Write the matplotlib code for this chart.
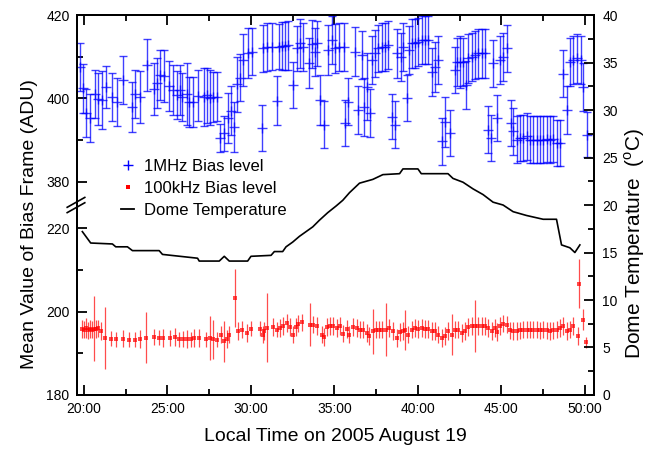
import numpy as np
import matplotlib.pyplot as plt
from matplotlib.lines import Line2D
from matplotlib.ticker import MultipleLocator, NullFormatter

plt.rcParams['font.family'] = ['Liberation Sans', 'DejaVu Sans']
plt.rcParams['mathtext.fontset'] = 'custom'
plt.rcParams['mathtext.rm'] = 'Liberation Sans'

# 1MHz bias level (ADU) with error bars
t_1mhz = [19.76, 19.96, 20.12, 20.36, 20.66, 20.84, 21.06, 21.32, 21.66, 21.96,
          22.34, 22.86, 23.05, 23.35, 23.75, 24.19, 24.37, 24.55, 24.79, 25.09,
          25.33, 25.55, 25.75, 25.87, 26.15, 26.29, 26.53, 26.83, 27.19, 27.35,
          27.54, 27.72, 27.95, 28.14, 28.38, 28.62, 28.78, 28.98, 29.16, 29.34,
          29.52, 29.82, 30.06, 30.66, 30.72, 30.96, 31.26, 31.56, 31.68, 31.86,
          32.04, 32.22, 32.51, 32.75, 32.93, 33.11, 33.47, 33.65, 33.83, 33.95,
          34.13, 34.37, 34.61, 34.85, 35.03, 35.27, 35.55, 35.63, 35.81, 36.23,
          36.41, 36.65, 36.77, 36.95, 37.13, 37.25, 37.43, 37.60, 37.84, 38.02,
          38.20, 38.44, 38.62, 38.74, 38.98, 39.10, 39.34, 39.46, 39.64, 39.82,
          40.00, 40.24, 40.42, 40.60, 40.84, 41.02, 41.20, 41.44, 41.62, 41.92,
          42.22, 42.34, 42.51, 42.69, 42.87, 42.99, 43.23, 43.41, 43.59, 43.83,
          44.01, 44.19, 44.37, 44.49, 44.73, 44.91, 45.09, 45.33, 45.57, 45.69,
          45.93, 46.11, 46.29, 46.53, 46.71, 46.89, 47.13, 47.31, 47.49, 47.72,
          47.90, 48.08, 48.32, 48.50, 48.68, 48.92, 49.10, 49.28, 49.52, 49.76,
          49.88, 50.12]
v_1mhz = [407.5, 402.4, 396.5, 395.3, 401.0, 399.9, 399.6, 402.8, 400.3, 399.2,
          404.4, 398.0, 401.1, 400.3, 408.0, 402.2, 403.6, 405.6, 405.4, 403.0,
          402.0, 400.8, 402.0, 400.4, 401.1, 399.2, 399.2, 400.7, 400.4, 400.8,
          400.2, 400.4, 400.4, 390.5, 391.7, 395.3, 397.1, 393.1, 403.4, 405.0,
          409.2, 411.0, 411.2, 392.9, 412.0, 412.4, 412.4, 399.5, 412.4, 412.6,
          412.6, 412.7, 403.2, 412.0, 413.2, 412.4, 408.4, 413.0, 411.2, 413.2,
          399.6, 393.7, 411.6, 414.0, 412.0, 412.4, 412.4, 394.1, 399.2, 411.2,
          397.2, 410.4, 398.0, 402.8, 396.5, 409.2, 410.8, 412.0, 412.4, 412.4,
          412.8, 395.6, 393.7, 410.8, 410.0, 412.4, 400.1, 411.6, 413.2, 413.2,
          413.6, 414.0, 414.0, 414.0, 406.4, 407.6, 409.2, 389.7, 394.4, 391.7,
          406.8, 408.8, 408.8, 408.8, 403.2, 409.6, 410.0, 410.4, 410.8, 410.8,
          410.8, 392.5, 390.5, 408.4, 395.3, 409.2, 410.0, 412.0, 394.1, 392.1,
          390.1, 390.5, 390.5, 390.9, 390.1, 390.1, 390.1, 390.1, 390.1, 390.3,
          390.1, 390.3, 389.3, 389.3, 405.9, 397.2, 408.8, 409.2, 409.6, 409.2,
          402.8, 391.3]
e_1mhz = [5.8, 5.8, 5.8, 5.8, 5.8, 6.2, 7.0, 5.0, 5.8, 5.8,
          5.8, 6.0, 5.8, 6.2, 6.2, 6.2, 6.0, 6.0, 6.2, 6.0,
          6.0, 5.8, 6.0, 5.8, 7.5, 6.0, 6.0, 6.0, 7.0, 6.6,
          6.5, 6.0, 5.9, 3.3, 4.2, 6.0, 5.9, 6.0, 6.6, 5.6,
          6.2, 6.0, 5.6, 5.6, 5.6, 5.8, 5.6, 5.8, 5.4, 5.8,
          5.8, 5.8, 5.6, 5.4, 5.8, 5.8, 6.0, 5.7, 5.8, 5.4,
          6.0, 5.6, 6.0, 5.8, 5.8, 5.8, 5.8, 5.6, 5.6, 5.9,
          5.8, 5.8, 7.0, 8.0, 5.8, 5.8, 5.6, 5.6, 5.8, 5.8,
          5.8, 5.4, 5.6, 5.8, 5.8, 5.8, 5.6, 5.8, 5.8, 5.8,
          5.8, 5.8, 5.8, 5.8, 5.8, 6.0, 5.8, 5.6, 6.0, 5.6,
          5.6, 5.8, 6.2, 5.8, 5.8, 5.8, 5.8, 5.8, 5.8, 5.8,
          5.8, 5.6, 5.6, 5.6, 5.6, 5.8, 5.8, 5.6, 5.6, 5.6,
          5.6, 5.6, 5.6, 5.6, 5.6, 5.6, 5.6, 5.6, 5.6, 5.6,
          5.6, 5.6, 5.6, 5.6, 5.6, 5.8, 5.8, 5.8, 5.8, 5.8,
          5.8, 5.4]

# 100kHz bias level (ADU) with error bars
t_100k = [19.88, 20.00, 20.12, 20.24, 20.36, 20.48, 20.60, 20.72, 20.84, 21.00,
          21.26, 21.60, 21.92, 22.32, 22.69, 23.05, 23.35, 23.71, 24.19, 24.49,
          24.73, 25.15, 25.45, 25.69, 25.93, 26.17, 26.41, 26.59, 26.89, 27.31,
          27.54, 27.72, 27.96, 28.20, 28.38, 28.56, 28.68, 29.04, 29.22, 29.46,
          29.76, 30.00, 30.54, 30.72, 30.78, 30.96, 31.32, 31.56, 31.74, 31.92,
          32.16, 32.34, 32.51, 32.69, 32.81, 33.05, 33.53, 33.71, 33.95, 34.25,
          34.37, 34.55, 34.73, 34.91, 35.15, 35.33, 35.51, 35.75, 35.87, 36.11,
          36.35, 36.53, 36.71, 36.95, 37.07, 37.31, 37.49, 37.66, 37.84, 38.08,
          38.26, 38.50, 38.74, 38.92, 39.10, 39.22, 39.40, 39.64, 39.82, 40.00,
          40.24, 40.42, 40.60, 40.84, 41.02, 41.20, 41.44, 41.62, 41.80, 42.04,
          42.22, 42.40, 42.63, 42.81, 42.99, 43.23, 43.41, 43.59, 43.83, 44.01,
          44.19, 44.43, 44.61, 44.73, 44.91, 45.09, 45.33, 45.51, 45.69, 45.93,
          46.11, 46.29, 46.53, 46.71, 46.89, 47.13, 47.31, 47.49, 47.72, 47.90,
          48.08, 48.32, 48.50, 48.68, 48.92, 49.10, 49.28, 49.58, 49.64, 49.88,
          50.06]
v_100k = [195.8, 195.7, 196.0, 195.5, 195.8, 195.7, 195.9, 195.8, 196.0, 195.3,
          193.7, 193.5, 193.4, 193.5, 193.3, 193.3, 193.4, 193.7, 193.9, 193.7,
          193.7, 193.7, 193.9, 193.4, 193.4, 193.4, 193.4, 193.7, 193.7, 193.4,
          193.7, 193.4, 193.3, 194.5, 192.9, 193.4, 194.5, 203.3, 195.3, 195.7,
          194.9, 195.9, 195.9, 194.5, 195.3, 196.1, 196.3, 195.7, 196.1, 196.6,
          197.3, 196.3, 194.5, 196.3, 197.1, 197.4, 196.9, 196.9, 196.6, 194.5,
          193.9, 196.3, 196.5, 196.5, 196.1, 196.5, 194.7, 195.8, 194.5, 196.3,
          196.1, 195.7, 195.7, 194.9, 194.2, 195.3, 195.7, 195.7, 195.7, 195.7,
          196.1, 195.3, 193.7, 195.1, 195.3, 195.7, 194.5, 195.7, 196.1, 195.8,
          196.1, 195.8, 195.8, 195.3, 195.3, 194.5, 193.7, 194.1, 195.3, 194.5,
          195.7, 195.7, 194.9, 195.3, 196.3, 196.6, 196.6, 196.6, 196.6, 196.6,
          196.1, 195.3, 196.1, 195.1, 196.6, 197.1, 196.9, 195.5, 195.3, 195.3,
          195.5, 195.7, 195.7, 195.7, 195.7, 195.7, 195.5, 195.7, 195.5, 195.3,
          195.5, 195.7, 196.1, 196.6, 195.3, 195.7, 196.5, 194.1, 206.7, 198.1,
          192.6]
e_100k = [2.1, 2.1, 2.4, 2.1, 2.1, 2.1, 7.8, 2.1, 2.1, 2.1,
          7.4, 1.8, 1.8, 2.1, 1.8, 1.8, 2.1, 6.1, 2.0, 1.8,
          2.1, 2.0, 2.1, 1.8, 2.0, 2.1, 1.8, 2.1, 2.1, 1.8,
          5.3, 4.7, 1.8, 2.1, 4.9, 2.1, 2.1, 6.9, 2.1, 2.1,
          2.1, 1.8, 1.8, 2.1, 2.1, 8.3, 2.1, 1.8, 2.1, 2.1,
          2.1, 2.1, 2.1, 2.1, 2.1, 2.1, 5.1, 2.1, 2.1, 2.1,
          2.1, 2.1, 2.1, 2.1, 2.1, 2.1, 2.1, 2.1, 2.1, 2.1,
          2.1, 2.1, 2.1, 2.1, 2.1, 5.4, 2.1, 2.1, 2.1, 6.4,
          2.1, 2.1, 2.1, 2.1, 2.1, 4.8, 2.1, 2.1, 2.1, 2.1,
          2.1, 2.1, 2.1, 2.1, 2.1, 2.1, 2.1, 2.1, 2.1, 4.9,
          2.1, 2.1, 2.1, 2.1, 2.1, 2.1, 6.2, 2.1, 2.1, 2.1,
          2.1, 2.1, 2.1, 2.1, 2.1, 2.1, 2.1, 2.1, 2.1, 2.1,
          2.1, 2.1, 2.1, 2.1, 2.1, 2.1, 2.1, 2.1, 2.1, 2.1,
          2.1, 2.1, 2.1, 2.1, 2.1, 2.1, 2.1, 2.1, 5.9, 2.5,
          1.4]

# dome temperature (deg C)
t_dome = [19.9, 20.4, 21.7, 21.9, 22.6, 22.9, 24.5, 24.7, 26.8, 26.9,
          28.1, 28.4, 28.7, 29.8, 30.0, 31.2, 31.4, 31.9, 32.1, 32.5,
          32.9, 33.3, 33.7, 34.1, 34.6, 35.1, 35.5, 35.9, 36.5, 37.3,
          37.9, 38.9, 39.1, 40.0, 40.2, 41.8, 42.1, 42.7, 43.3, 43.9,
          44.5, 45.1, 45.7, 46.5, 47.5, 48.3, 48.6, 49.1, 49.4, 49.7]
T_dome = [17.2, 16.0, 15.9, 15.6, 15.6, 15.2, 15.2, 14.8, 14.4, 14.1,
          14.1, 14.6, 14.1, 14.1, 14.6, 14.7, 15.1, 15.1, 15.6, 16.1,
          16.7, 17.2, 17.7, 18.4, 19.2, 19.9, 20.5, 21.3, 22.3, 22.7,
          23.2, 23.3, 23.8, 23.8, 23.3, 23.3, 22.8, 22.4, 21.7, 21.1,
          20.3, 20.0, 19.3, 18.9, 18.5, 18.5, 15.8, 15.5, 15.0, 15.8]

x_ticks = [20, 25, 30, 35, 40, 45, 50]
x_labels = ['20:00', '25:00', '30:00', '35:00', '40:00', '45:00', '50:00']
adu_ticks = [180, 200, 220, 380, 400, 420]
adu_minor = [190, 210, 390, 410]

# broken left axis: 180-225.5 at the bottom, 374.5-420 on top
low_top, high_bot, squeeze = 225.5, 374.5, 0.001
xp = np.array([-1e4, 180.0, low_top, high_bot, 1e4])
fp = np.zeros(5)
fp[0] = -1e4 - 180.0
fp[2] = low_top - 180.0
fp[3] = fp[2] + (high_bot - low_top) * squeeze
fp[4] = fp[3] + (1e4 - high_bot)


def fwd(v):
    return np.interp(v, xp, fp)


def inv(u):
    return np.interp(u, fp, xp)


fig = plt.figure(figsize=(6.5, 4.55), dpi=100)
ax = fig.add_axes([0.1177, 0.1319, 0.796, 0.835])
ax.set_yscale('function', functions=(fwd, inv))

ax.errorbar(t_1mhz, v_1mhz, yerr=e_1mhz, fmt='+', color='#0000ff', ms=6.5, mew=1.0,
            elinewidth=1.0, capsize=2.6, capthick=1.0, alpha=0.75)
ax.errorbar(t_100k, v_100k, yerr=e_100k, fmt='s', color='#ff0000', ms=2.6, mew=0,
            elinewidth=0.9, capsize=2.2, capthick=0.9, alpha=0.7)

ax.set_xlim(19.55, 50.54)
ax.set_ylim(180, 420)
ax.set_xticks(x_ticks, labels=x_labels)
ax.xaxis.set_minor_locator(MultipleLocator(2.5))
ax.set_yticks(adu_ticks, labels=[str(v) for v in adu_ticks])
ax.set_yticks(adu_minor, minor=True)
ax.yaxis.set_minor_formatter(NullFormatter())
ax.tick_params(which='both', direction='in', top=True, right=False, width=1.3,
               labelsize=10, pad=5)
ax.tick_params(which='major', length=7)
ax.tick_params(which='minor', length=4)
for s in ax.spines.values():
    s.set_linewidth(1.4)

ax.set_xlabel('Local Time on 2005 August 19', fontsize=14, labelpad=9)
ax.set_ylabel('Mean Value of Bias Frame (ADU)', fontsize=14)
ax.yaxis.set_label_coords(-0.075, 0.45)

# axis break marks on the left spine
for dy in (-0.007, 0.007):
    ax.plot([-0.018, 0.016], [0.5 + dy - 0.013, 0.5 + dy + 0.013], transform=ax.transAxes,
            color='black', lw=1.2, clip_on=False)

ax2 = ax.twinx()
ax2.plot(t_dome, T_dome, color='black', lw=1.2)
ax2.set_ylim(0, 40)
ax2.yaxis.set_major_locator(MultipleLocator(5))
ax2.yaxis.set_minor_locator(MultipleLocator(2.5))
ax2.tick_params(which='both', direction='in', width=1.3, labelsize=10, pad=6)
ax2.tick_params(which='major', length=7)
ax2.tick_params(which='minor', length=4)
for s in ax2.spines.values():
    s.set_linewidth(1.4)
ax2.set_ylabel('Dome Temperature  ($^{\\rm o}$C)', fontsize=15)
ax2.yaxis.set_label_coords(1.054, 0.40)

handles = [
    Line2D([], [], ls='none', marker='+', color='#0000ff', ms=6.5, mew=1.0),
    Line2D([], [], ls='none', marker='s', color='#ff0000', ms=2.6, mew=0),
    Line2D([], [], color='black', lw=1.3),
]
ax2.legend(handles, ['1MHz Bias level', '100kHz Bias level', 'Dome Temperature'],
           loc='upper left', bbox_to_anchor=(0.057, 0.661), frameon=False, fontsize=12,
           handlelength=0.8, handletextpad=0.6, labelspacing=0.42)

fig.savefig('out.png', dpi=100)
